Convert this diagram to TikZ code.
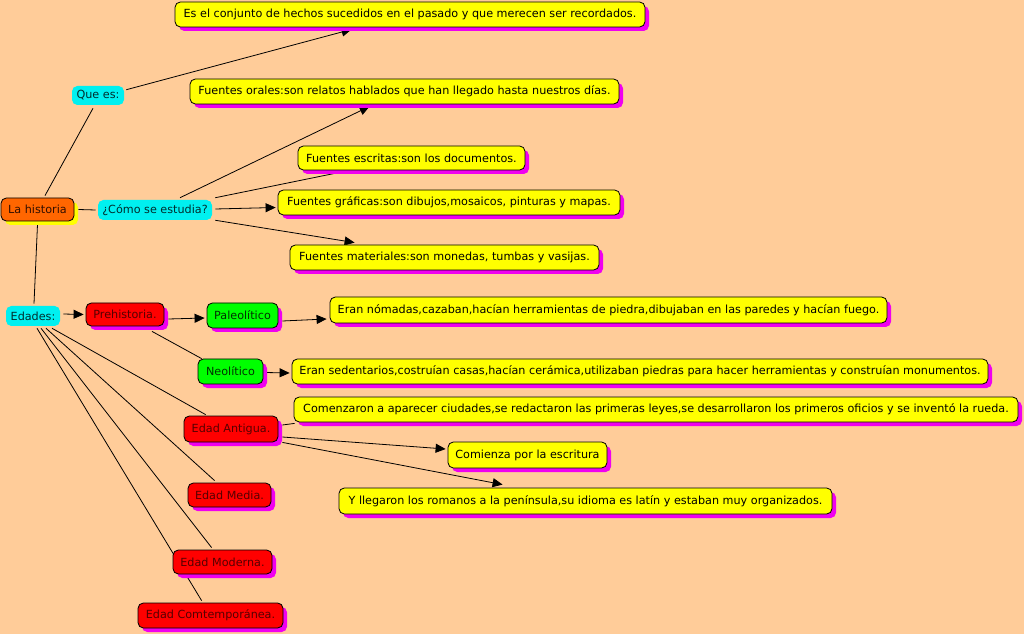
\documentclass[tikz,border=0pt]{standalone}
\usepackage{fontspec}
\setmainfont{DejaVu Sans}
\usetikzlibrary{calc,shadows,arrows.meta}
\definecolor{bg}{RGB}{255,204,153}
\definecolor{cy}{RGB}{0,240,240}
\definecolor{ye}{RGB}{255,255,0}
\definecolor{mg}{RGB}{240,0,240}
\definecolor{rd}{RGB}{255,0,0}
\definecolor{gr}{RGB}{0,255,0}
\definecolor{og}{RGB}{255,102,0}
\definecolor{rdtext}{RGB}{85,0,0}
\definecolor{grtext}{RGB}{0,50,0}
\definecolor{cytext}{RGB}{0,45,45}
\definecolor{ogtext}{RGB}{50,15,0}
\pgfdeclarelayer{bottom}
\pgfdeclarelayer{background}
\pgfsetlayers{bottom,background,main}
\begin{document}
\begin{tikzpicture}[x=0.75pt,y=-0.75pt,
 base/.style={rounded corners=4pt, inner xsep=1pt, inner ysep=1pt, font=\fontsize{8.4}{10}\selectfont, align=center},
 shd/.style={general shadow={fill=mg, shadow xshift=3pt, shadow yshift=-3pt}},
 ybox/.style={base, shd, fill=ye, draw=black, line width=0.6pt, text=black},
 rbox/.style={base, shd, fill=rd, draw=black, line width=0.6pt, text=rdtext},
 gbox/.style={base, shd, fill=gr, draw=black, line width=0.6pt, text=grtext},
 cbox/.style={base, fill=cy, text=cytext},
 obox/.style={base, general shadow={fill=ye, shadow xshift=3pt, shadow yshift=-3pt}, fill=og, draw=black, line width=0.6pt, text=ogtext},
 link/.style={draw=black, line width=0.6pt},
 arr/.style={link, -{Triangle[length=7.5pt,width=6.75pt]}},
]
\useasboundingbox (0,0) rectangle (1024,634);
\begin{pgfonlayer}{bottom}
\fill[bg] (0,0) rectangle (1024,634);
\end{pgfonlayer}

% nodes
\node[ybox, minimum width=352.5pt, minimum height=18.75pt] (def) at (410,14.5) {Es el conjunto de hechos sucedidos en el pasado y que merecen ser recordados.};
\node[ybox, minimum width=321.75pt, minimum height=18.75pt] (orales) at (404.5,91.5) {Fuentes orales:son relatos hablados que han llegado hasta nuestros días.};
\node[ybox, minimum width=170.25pt, minimum height=18pt] (escritas) at (411.5,158) {Fuentes escritas:son los documentos.};
\node[ybox, minimum width=256.5pt, minimum height=18.75pt] (graficas) at (449,202.5) {Fuentes gráficas:son dibujos,mosaicos, pinturas y mapas.};
\node[ybox, minimum width=231.75pt, minimum height=18.75pt] (materiales) at (444.5,257.5) {Fuentes materiales:son monedas, tumbas y vasijas.};
\node[cbox, minimum width=39pt, minimum height=14.25pt] (quees) at (98,95.5) {Que es:};
\node[cbox, minimum width=85.5pt, minimum height=15pt] (como) at (155,210) {¿Cómo se estudia?};
\node[obox, minimum width=54.75pt, minimum height=17.25pt] (historia) at (37.5,209.5) {La historia};
\node[cbox, minimum width=40.5pt, minimum height=15pt] (edades) at (33,316) {Edades:};
\node[rbox, minimum width=58.5pt, minimum height=17.25pt] (prehistoria) at (125,314.5) {Prehistoria.};
\node[gbox, minimum width=53.25pt, minimum height=18.75pt] (paleo) at (242.5,315.5) {Paleolítico};
\node[gbox, minimum width=48.75pt, minimum height=18.75pt] (neo) at (230.5,371.5) {Neolítico};
\node[ybox, minimum width=417.75pt, minimum height=19.5pt] (nomadas) at (608.5,310) {Eran nómadas,cazaban,hacían herramientas de piedra,dibujaban en las paredes y hacían fuego.};
\node[ybox, minimum width=522pt, minimum height=18.75pt] (sedentarios) at (640,371.5) {Eran sedentarios,costruían casas,hacían cerámica,utilizaban piedras para hacer herramientas y construían monumentos.};
\node[ybox, minimum width=543pt, minimum height=18.75pt] (comenzaron) at (656,409.5) {Comenzaron a aparecer ciudades,se redactaron las primeras leyes,se desarrollaron los primeros oficios y se inventó la rueda.};
\node[rbox, minimum width=70.5pt, minimum height=19.5pt] (antigua) at (231,429) {Edad Antigua.};
\node[ybox, minimum width=119.25pt, minimum height=19.5pt] (comienza) at (527.5,455) {Comienza por la escritura};
\node[ybox, minimum width=369.75pt, minimum height=19.5pt] (romanos) at (585.5,501) {Y llegaron los romanos a la península,su idioma es latín y estaban muy organizados.};
\node[rbox, minimum width=62.25pt, minimum height=18pt] (media) at (229.5,495) {Edad Media.};
\node[rbox, minimum width=74.25pt, minimum height=18pt] (moderna) at (222.5,562) {Edad Moderna.};
\node[rbox, minimum width=108.75pt, minimum height=18.75pt] (contemp) at (210.5,615.5) {Edad Comtemporánea.};

% connectors
\begin{pgfonlayer}{background}
\draw[arr] ($(quees.north east)+(2,4)$) -- ($(def.south west)+(177,2)$);
\draw[link] ($(historia.north)+(7.5,-2)$) -- ($(quees.south)+(-5,3)$);
\draw[link] ($(historia.east)+(4,0)$) -- ($(como.west)+(-2,0)$);
\draw[link] ($(historia.south)+(0,3)$) -- ($(edades.north)+(1,-2)$);
\draw[arr] ($(como.north)+(25,-2)$) -- ($(orales.south west)+(180,2)$);
\draw[link] ($(como.north east)+(3,-2)$) -- ($(escritas.south west)+(42,2)$);
\draw[arr] ($(como.east)+(3,-1)$) -- ($(graficas.west)+(-2,5)$);
\draw[arr] ($(como.south east)+(3,0)$) -- ($(materiales.north west)+(65,-2)$);
\draw[arr] ($(edades.east)+(3,-2)$) -- ($(prehistoria.west)+(-2,0)$);
\draw[arr] ($(prehistoria.east)+(4,4.5)$) -- ($(paleo.west)+(-2,2.5)$);
\draw[arr] ($(paleo.east)+(4,5.5)$) -- ($(nomadas.west)+(-3,9)$);
\draw[link] ($(prehistoria.south)+(27,5)$) -- ($(neo.north west)+(4,0)$);
\draw[arr] ($(neo.east)+(2,1)$) -- ($(sedentarios.west)+(-2,1.5)$);
\draw[link] ($(edades.south)+(19,2)$) -- ($(antigua.north west)+(22,-1)$);
\draw[link] ($(edades.south)+(13,2)$) -- ($(media.north west)+(27,-2)$);
\draw[link] ($(edades.south)+(8,2)$) -- ($(moderna.north west)+(39,-2)$);
\draw[link] ($(edades.south)+(4,2)$) -- ($(contemp.north west)+(64,-2)$);
\draw[link] ($(antigua.east)+(4,-4)$) -- ($(comenzaron.south west)+(1,1)$);
\draw[arr] ($(antigua.east)+(4,8)$) -- ($(comienza.west)+(-2,-6)$);
\draw[arr] ($(antigua.south east)+(4,0)$) -- ($(romanos.north west)+(164,-3)$);
\end{pgfonlayer}
\end{tikzpicture}
\end{document}
